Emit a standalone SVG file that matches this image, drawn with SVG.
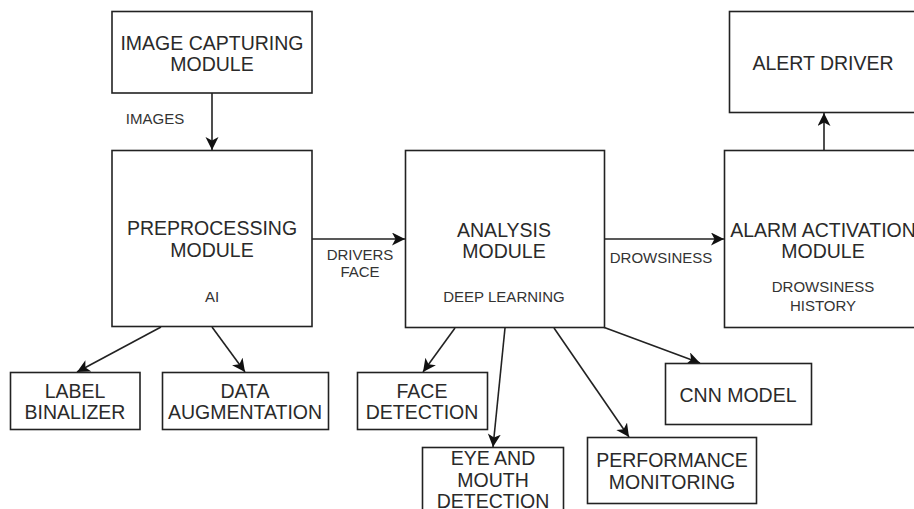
<svg xmlns="http://www.w3.org/2000/svg" width="914" height="509" viewBox="0 0 914 509">
<style>
.box{fill:#fff;stroke:#222;stroke-width:1.6}
.t{font-family:"Liberation Sans",Arial,sans-serif;font-size:19.5px;fill:#2a2a2a;text-anchor:middle}
.s{font-family:"Liberation Sans",Arial,sans-serif;font-size:15px;fill:#333;text-anchor:middle}
.e{fill:none;stroke:#222;stroke-width:1.6}
</style>
<defs>
<marker id="arr" markerUnits="userSpaceOnUse" markerWidth="15" markerHeight="14" refX="13" refY="6.5" orient="auto">
<path d="M0,0 L13,6.5 L0,13 L3.5,6.5 z" fill="#111"/>
</marker>
</defs>
<rect width="914" height="509" fill="#fff"/>
<g id="connectors">
<line class="e" x1="212" y1="93" x2="212" y2="150" marker-end="url(#arr)"/>
<line class="e" x1="312" y1="239" x2="405" y2="239" marker-end="url(#arr)"/>
<line class="e" x1="604" y1="239" x2="724" y2="239" marker-end="url(#arr)"/>
<line class="e" x1="824" y1="150" x2="824" y2="113" marker-end="url(#arr)"/>
<line class="e" x1="161" y1="327" x2="77" y2="372" marker-end="url(#arr)"/>
<line class="e" x1="212" y1="327" x2="245" y2="372" marker-end="url(#arr)"/>
<line class="e" x1="455" y1="328" x2="423" y2="372" marker-end="url(#arr)"/>
<line class="e" x1="505" y1="328" x2="493" y2="447" marker-end="url(#arr)"/>
<line class="e" x1="554" y1="328" x2="629" y2="437" marker-end="url(#arr)"/>
<line class="e" x1="603" y1="327" x2="700" y2="363" marker-end="url(#arr)"/>
<text class="s" x="155" y="124">IMAGES</text>
<text class="s" x="360" y="260">DRIVERS</text>
<text class="s" x="360" y="277">FACE</text>
<text class="s" x="661" y="263">DROWSINESS</text>
</g>
<g id="image-capturing">
<rect class="box" x="112" y="11.5" width="200" height="81.5"/>
<text class="t" x="212" y="50">IMAGE CAPTURING</text>
<text class="t" x="212" y="71">MODULE</text>
</g>
<g id="preprocessing">
<rect class="box" x="112" y="150.5" width="200" height="176"/>
<text class="t" x="212" y="235">PREPROCESSING</text>
<text class="t" x="212" y="257">MODULE</text>
<text class="s" x="212" y="302">AI</text>
</g>
<g id="analysis">
<rect class="box" x="405.5" y="150.5" width="199" height="177"/>
<text class="t" x="504" y="237">ANALYSIS</text>
<text class="t" x="504" y="258">MODULE</text>
<text class="s" x="504" y="302">DEEP LEARNING</text>
</g>
<g id="alarm-activation">
<rect class="box" x="724.5" y="150.5" width="200" height="177"/>
<text class="t" x="823" y="237">ALARM ACTIVATION</text>
<text class="t" x="823" y="258">MODULE</text>
<text class="s" x="823" y="292">DROWSINESS</text>
<text class="s" x="823" y="311">HISTORY</text>
</g>
<g id="alert-driver">
<rect class="box" x="729.5" y="11.5" width="200" height="101"/>
<text class="t" x="823" y="70">ALERT DRIVER</text>
</g>
<g id="label-binalizer">
<rect class="box" x="10.5" y="372.5" width="129.5" height="57"/>
<text class="t" x="75" y="398">LABEL</text>
<text class="t" x="75" y="419">BINALIZER</text>
</g>
<g id="data-augmentation">
<rect class="box" x="162.5" y="372.5" width="166" height="57"/>
<text class="t" x="245" y="398">DATA</text>
<text class="t" x="245" y="419">AUGMENTATION</text>
</g>
<g id="face-detection">
<rect class="box" x="357.5" y="372.5" width="130" height="57"/>
<text class="t" x="422" y="398">FACE</text>
<text class="t" x="422" y="419">DETECTION</text>
</g>
<g id="eye-mouth-detection">
<rect class="box" x="422.5" y="447.5" width="141" height="70"/>
<text class="t" x="493" y="465">EYE AND</text>
<text class="t" x="493" y="487">MOUTH</text>
<text class="t" x="493" y="508">DETECTION</text>
</g>
<g id="performance-monitoring">
<rect class="box" x="587.5" y="437.5" width="169" height="66"/>
<text class="t" x="672" y="467">PERFORMANCE</text>
<text class="t" x="672" y="489">MONITORING</text>
</g>
<g id="cnn-model">
<rect class="box" x="665.5" y="363.5" width="146" height="61"/>
<text class="t" x="738" y="402">CNN MODEL</text>
</g>
</svg>
